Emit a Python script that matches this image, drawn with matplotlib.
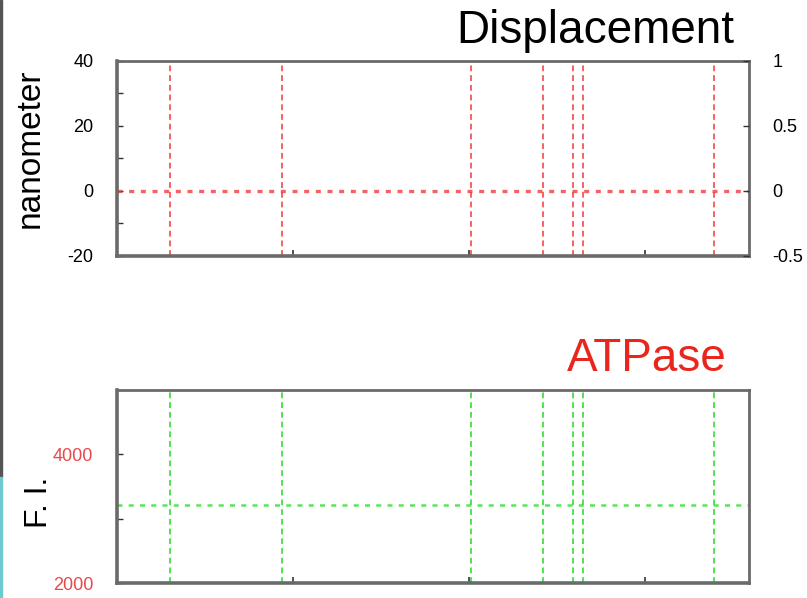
import matplotlib.pyplot as plt
from matplotlib.patches import Rectangle

# event times (arbitrary time units) and baselines
EVENT_TIMES = [0.30, 0.94, 2.01, 2.42, 2.59, 2.65, 3.39]
TIME_RANGE = (0.0, 3.59)
TIME_TICKS = [0, 1, 2, 3]

DISP_BASELINE = 0
DISP_LIMITS = (-20, 40)
DISP_TICKS = [-20, 0, 20, 40]
DISP_MINOR = [-10, 10, 30]
RIGHT_LIMITS = (-0.5, 1)
RIGHT_TICKS = [-0.5, 0, 0.5, 1]
RIGHT_LABELS = ["-0.5", "0", "0.5", "1"]

ATP_BASELINE = 3220
ATP_LIMITS = (2000, 5000)
ATP_TICKS = [2000, 4000]
ATP_MINOR = [3000]

RED = "#f03c3c"
GREEN = "#3ee03e"
FRAME = "#6a6a6a"

plt.rcParams["font.family"] = ["Liberation Sans", "DejaVu Sans"]
plt.rcParams["axes.unicode_minus"] = False

fig = plt.figure(figsize=(8.07, 5.98), dpi=100)
ax_top = fig.add_axes([0.145, 0.572, 0.783, 0.326])
ax_bot = fig.add_axes([0.145, 0.025, 0.783, 0.323])


def style_frame(ax):
    for side, spine in ax.spines.items():
        spine.set_color(FRAME)
        spine.set_linewidth(2.6 if side in ("bottom", "left") else 2.0)
    ax.set_xlim(*TIME_RANGE)
    ax.set_xticks(TIME_TICKS)
    ax.set_xticklabels([])
    ax.tick_params(axis="x", direction="in", length=4, width=1.2, color="#333333")
    ax.tick_params(axis="y", direction="in", length=4, width=1.0, color="#333333",
                   labelsize=13, pad=17)
    ax.tick_params(axis="y", which="minor", direction="in", length=4, width=1.0,
                   color="#333333")


# Displacement panel
style_frame(ax_top)
ax_top.set_ylim(*DISP_LIMITS)
ax_top.set_yticks(DISP_TICKS)
ax_top.set_yticks(DISP_MINOR, minor=True)
for t in EVENT_TIMES:
    ax_top.axvline(t, color=RED, linestyle=(0, (3, 2)), linewidth=1.4, alpha=0.8)
ax_top.axhline(DISP_BASELINE, color=RED, linestyle=(0, (1.5, 2)), linewidth=2.4, alpha=0.8)
ax_top.set_ylabel("nanometer", fontsize=24)
ax_top.yaxis.set_label_coords(-0.113, 0.55)

ax_right = ax_top.twinx()
ax_right.set_ylim(*RIGHT_LIMITS)
ax_right.set_yticks(RIGHT_TICKS)
ax_right.set_yticklabels(RIGHT_LABELS)
ax_right.tick_params(axis="y", direction="in", length=4, width=1.0, color="#333333",
                     labelsize=13, pad=17)
for spine in ax_right.spines.values():
    spine.set_visible(False)

fig.text(0.910, 0.948, "Displacement", fontsize=33, color="black",
         ha="right", va="center")

# ATPase panel
style_frame(ax_bot)
ax_bot.set_ylim(*ATP_LIMITS)
ax_bot.set_yticks(ATP_TICKS)
ax_bot.set_yticks(ATP_MINOR, minor=True)
ax_bot.tick_params(axis="y", labelcolor="#e84848")
for t in EVENT_TIMES:
    ax_bot.axvline(t, color=GREEN, linestyle=(0, (3, 2)), linewidth=1.4, alpha=0.9)
ax_bot.axhline(ATP_BASELINE, color=GREEN, linestyle=(0, (2, 2.5)), linewidth=1.8, alpha=0.85)
ax_bot.set_ylabel("F. I.", fontsize=23)
ax_bot.yaxis.set_label_coords(-0.1, 0.42)

fig.text(0.901, 0.400, "ATPase", fontsize=33, color="#e8261e",
         ha="right", va="center")

# slide border remnants on the left edge
fig.patches.append(Rectangle((0, 0.203), 0.003, 0.797, transform=fig.transFigure,
                             color="#555555", zorder=5))
fig.patches.append(Rectangle((0, 0), 0.003, 0.203, transform=fig.transFigure,
                             color="#6cc9cc", zorder=5))

fig.savefig("out.png", dpi=100)
